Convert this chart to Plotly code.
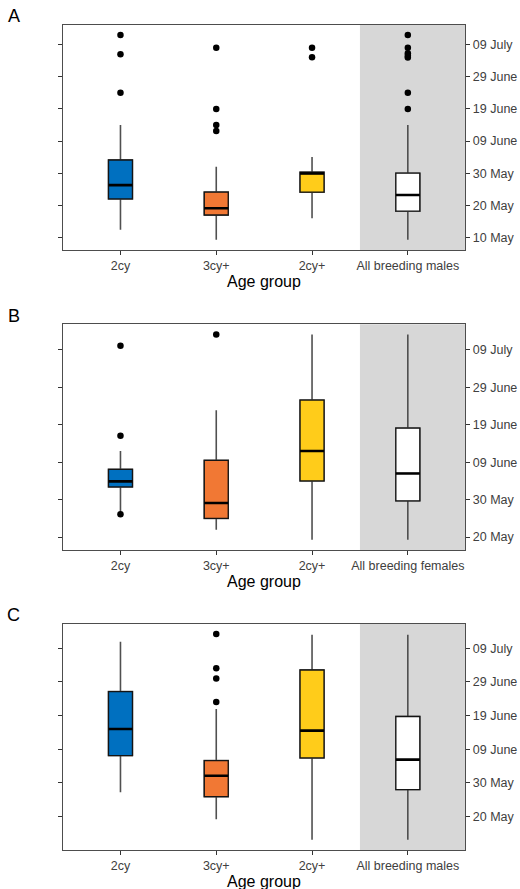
import plotly.graph_objects as go

# Values are day-of-year numbers (10 May = 130, 20 May = 140, ... 09 July = 190)
tick_vals = [130, 140, 150, 160, 170, 180, 190]
tick_text = ["10 May", "20 May", "30 May", "09 June", "19 June", "29 June", "09 July"]

colors = ["#0070C0", "#F17834", "#FFCC1A", "#FFFFFF"]

# Panel A
cats_A = ["2cy", "3cy+", "2cy+", "All breeding males"]
q1_A = [142.0, 137.0, 144.1, 138.2]
med_A = [146.3, 139.1, 149.9, 143.2]
q3_A = [154.1, 144.1, 150.3, 150.0]
lo_A = [132.4, 129.3, 136.0, 129.3]
hi_A = [165.0, 152.0, 155.0, 165.0]
out_A = [[193.0, 187.0, 175.0], [189.0, 170.0, 165.0, 163.1], [189.0, 186.1],
         [193.0, 189.0, 187.3, 186.5, 186.0, 175.0, 170.0]]

# Panel B
cats_B = ["2cy", "3cy+", "2cy+", "All breeding females"]
q1_B = [153.4, 145.0, 155.0, 149.7]
med_B = [154.9, 149.1, 163.0, 157.0]
q3_B = [158.1, 160.5, 176.6, 169.1]
lo_B = [146.4, 142.0, 139.3, 139.3]
hi_B = [163.0, 173.9, 194.1, 194.1]
out_B = [[191.1, 167.1, 146.1], [194.1], [], []]

# Panel C
cats_C = ["2cy", "3cy+", "2cy+", "All breeding males"]
q1_C = [158.1, 145.9, 157.4, 148.0]
med_C = [166.0, 152.1, 165.5, 156.9]
q3_C = [177.1, 156.6, 183.5, 169.7]
lo_C = [147.2, 139.2, 133.1, 133.1]
hi_C = [191.9, 171.9, 194.0, 194.0]
out_C = [[], [194.2, 184.0, 181.0, 174.0], [], []]

panel_labels = ["A", "B", "C"]

panels = [
    (cats_A, q1_A, med_A, q3_A, lo_A, hi_A, out_A),
    (cats_B, q1_B, med_B, q3_B, lo_B, hi_B, out_B),
    (cats_C, q1_C, med_C, q3_C, lo_C, hi_C, out_C),
]

W, H = 520, 889
x_dom = [63 / W, 465.3 / W]
# pixel top/bottom of each plot area
px_rows = [(24.7, 250.0), (324.3, 550.0), (623.7, 850.0)]

FONT = "Liberation Sans, Arial, sans-serif"
fig = go.Figure()

layout = dict(
    width=W, height=H,
    margin=dict(l=0, r=0, t=0, b=0),
    paper_bgcolor="white", plot_bgcolor="white",
    showlegend=False, boxmode="overlay",
    font=dict(family=FONT, size=12.5, color="#404040"),
    shapes=[], annotations=[],
)

for i, (cats, q1, med, q3, lo, hi, outs) in enumerate(panels):
    sfx = "" if i == 0 else str(i + 1)
    xa, ya = "x" + sfx, "y" + sfx
    for j, c in enumerate(cats):
        # whiskers + box
        fig.add_trace(go.Box(
            x=[c], q1=[q1[j]], median=[med[j]], q3=[q3[j]],
            lowerfence=[lo[j]], upperfence=[hi[j]],
            fillcolor=colors[j], line=dict(color="#505050", width=1.6),
            width=0.25, whiskerwidth=0, boxpoints=False,
            xaxis=xa, yaxis=ya, hoverinfo="skip"))
        # box outline
        fig.add_trace(go.Box(
            x=[c], q1=[q1[j]], median=[med[j]], q3=[q3[j]],
            lowerfence=[q1[j]], upperfence=[q3[j]],
            fillcolor=colors[j], line=dict(color="#141414", width=1.3),
            width=0.25, whiskerwidth=0, boxpoints=False,
            xaxis=xa, yaxis=ya, hoverinfo="skip"))
        # thick median
        fig.add_trace(go.Box(
            x=[c], q1=[med[j]], median=[med[j]], q3=[med[j]],
            lowerfence=[med[j]], upperfence=[med[j]],
            fillcolor="rgba(0,0,0,0)", line=dict(color="#000000", width=2.6),
            width=0.25, whiskerwidth=0, boxpoints=False,
            xaxis=xa, yaxis=ya, hoverinfo="skip"))
        if outs[j]:
            fig.add_trace(go.Scatter(
                x=[c] * len(outs[j]), y=outs[j], mode="markers",
                marker=dict(color="#000000", size=6.5),
                xaxis=xa, yaxis=ya, hoverinfo="skip"))

    allv = lo + hi + [v for o in outs for v in o]
    vmin, vmax = min(allv), max(allv)
    pad = (vmax - vmin) * 0.05
    top_px, bot_px = px_rows[i]
    y_dom = [1 - bot_px / H, 1 - top_px / H]

    layout["xaxis" + sfx] = dict(
        domain=x_dom, anchor=ya, type="category", categoryorder="array",
        categoryarray=cats, range=[-0.6, 3.6],
        showline=True, linecolor="#4D4D4D", linewidth=1, mirror=True,
        ticks="outside", ticklen=4, tickcolor="#333333", tickwidth=1,
        showgrid=False, zeroline=False,
        tickfont=dict(family=FONT, size=12.5, color="#404040"),
    )
    layout["yaxis" + sfx] = dict(
        domain=y_dom, anchor=xa, side="right",
        range=[vmin - pad, vmax + pad],
        tickvals=tick_vals, ticktext=tick_text,
        showline=True, linecolor="#4D4D4D", linewidth=1, mirror="ticks",
        ticks="outside", ticklen=4, tickcolor="#333333", tickwidth=1,
        showgrid=False, zeroline=False,
        tickfont=dict(family=FONT, size=12.5, color="#404040"),
    )
    layout["shapes"].append(dict(
        type="rect", xref=xa, yref=ya + " domain",
        x0=2.5, x1=3.6, y0=0, y1=1, layer="below",
        fillcolor="#D7D7D7", line=dict(width=0)))
    layout["annotations"].append(dict(
        text="Age group", xref="paper", yref="paper",
        x=(x_dom[0] + x_dom[1]) / 2, y=1 - (bot_px + 31) / H,
        xanchor="center", yanchor="middle", showarrow=False,
        font=dict(family=FONT, size=16, color="#000000")))
    layout["annotations"].append(dict(
        text=panel_labels[i], xref="paper", yref="paper",
        x=13.7 / W, y=1 - (top_px - 8.5) / H,
        xanchor="center", yanchor="middle", showarrow=False,
        font=dict(family=FONT, size=18, color="#000000")))

fig.update_layout(**layout)
fig.write_html(
    "out.html",
    config={"displayModeBar": False},
    post_script="document.body.style.margin='0';document.body.style.overflow='hidden';",
)
